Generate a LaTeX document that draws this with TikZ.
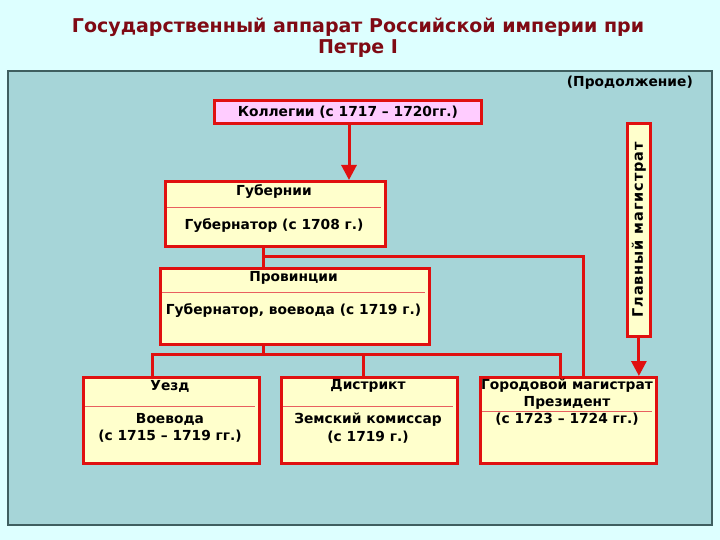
\documentclass[tikz,border=0pt]{standalone}
\usepackage{fontspec}
\setmainfont{DejaVu Sans}
\usetikzlibrary{arrows.meta,calc}
\definecolor{pagebg}{HTML}{DDFFFF}
\definecolor{panel}{HTML}{A6D5D8}
\definecolor{panelborder}{HTML}{3F5F60}
\definecolor{titlered}{HTML}{7F0A14}
\definecolor{boxred}{HTML}{E01010}
\definecolor{sepred}{HTML}{E86060}
\definecolor{boxfill}{HTML}{FFFFCC}
\definecolor{pinkfill}{HTML}{FFCCFF}
\tikzset{
  box/.style={draw=boxred, line width=2.8pt, fill=boxfill, anchor=north west, inner sep=0pt},
  sepline/.style={draw=sepred, line width=0.7pt},
  txt/.style={font=\bfseries\fontsize{13.8}{17.5}\selectfont, inner sep=0pt, align=center, text=black},
  conn/.style={draw=boxred, line width=3pt},
  arr/.style={conn, -{Triangle[length=15pt,width=15pt]}},
}
\begin{document}
\begin{tikzpicture}[x=1pt,y=-1pt]
\useasboundingbox (0,0) rectangle (720,540);
\fill[pagebg] (0,0) rectangle (720,540);
\draw[panelborder, line width=1.4pt, fill=panel] (8,71) rectangle (712,525);
\node[font=\bfseries\fontsize{19}{20.5}\selectfont, text=titlered, align=center, inner sep=0pt] (title) at (358,37.5)
  {Государственный аппарат Российской империи при\\Петре I};
\node[txt, anchor=east] (cont) at (693,83) {(Продолжение)};
% boxes
\node[box, fill=pinkfill, minimum width=267pt, minimum height=23pt] (kol) at (213,99) {};
\node[txt] (kolt) at (kol.center) {Коллегии (с 1717 – 1720гг.)};
\node[box, minimum width=220pt, minimum height=65pt] (gub) at (164,180) {};
\draw[sepline] (167,207) -- (381,207);
\node[txt] (gub1) at (274,192) {Губернии};
\node[txt] (gub2) at (274,226) {Губернатор (с 1708 г.)};
\node[box, minimum width=269pt, minimum height=76pt] (prov) at (159,267) {};
\draw[sepline] (162,292) -- (425,292);
\node[txt] (prov1) at (293.5,278) {Провинции};
\node[txt] (prov2) at (293.5,311) {Губернатор, воевода (с 1719 г.)};
\node[box, minimum width=176pt, minimum height=86pt] (uezd) at (82,376) {};
\draw[sepline] (85,406) -- (255,406);
\node[txt] (uezd1) at (170,386) {Уезд};
\node[txt] (uezd2) at (170,428) {Воевода\\(с 1715 – 1719 гг.)};
\node[box, minimum width=176pt, minimum height=86pt] (dist) at (280,376) {};
\draw[sepline] (283,406) -- (453,406);
\node[txt] (dist1) at (368,386) {Дистрикт};
\node[txt] (dist2) at (368,428) {Земский комиссар\\(с 1719 г.)};
\node[box, minimum width=176pt, minimum height=86pt] (gor) at (479,376) {};
\draw[sepline] (482,411) -- (652,411);
\node[txt] (gor1) at (567,394) {Городовой магистрат\\Президент};
\node[txt] (gor2) at (567,419) {(с 1723 – 1724 гг.)};
\node[box, minimum width=23pt, minimum height=213pt] (glav) at (626,122) {};
\node[txt, rotate=90, font=\bfseries\fontsize{14.5}{17}\selectfont] (glavt) at (glav.center) {\addfontfeature{LetterSpace=6}Главный магистрат};
% connectors
\coordinate (a1) at (349,0);
\draw[arr] (a1 |- kol.south) -- (a1 |- gub.north);
\coordinate (j1) at (263,256);
\coordinate (j2) at (583,256);
\draw[conn] (j1 |- gub.south) -- (j1 |- prov.north);
\draw[conn] (j1) -- (j2) -- (j2 |- gor.north);
\coordinate (j3) at (263,354);
\coordinate (d1) at (152,354);
\coordinate (d2) at (363,354);
\coordinate (d3) at (560,354);
\draw[conn] (j3 |- prov.south) -- (j3);
\draw[conn] (d1 |- uezd.north) -- (d1) -- (d3) -- (d3 |- gor.north);
\draw[conn] (d2) -- (d2 |- dist.north);
\draw[arr] (glav.south) -- (glav.south |- gor.north);
\end{tikzpicture}
\end{document}
